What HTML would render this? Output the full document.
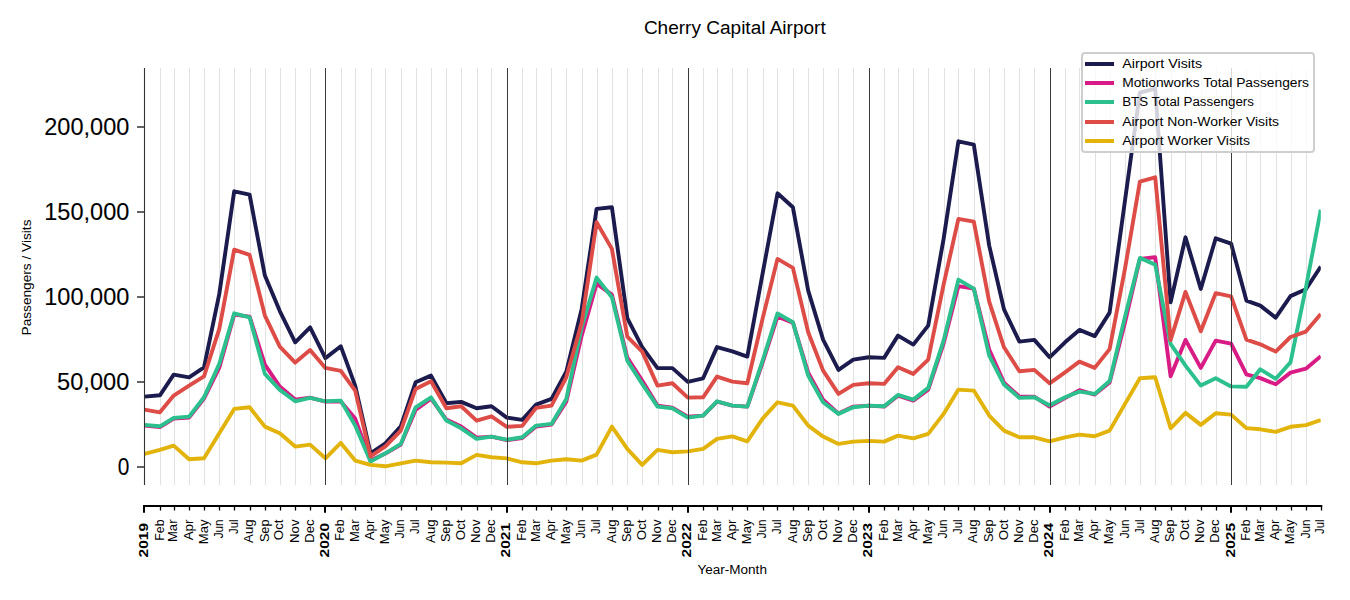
<!DOCTYPE html><html><head><meta charset="utf-8"><style>html,body{margin:0;padding:0;background:#fff;width:1350px;height:600px;overflow:hidden}svg{display:block}</style></head><body>
<svg width="1350" height="600" viewBox="0 0 1350 600" style='font-family:"Liberation Sans",sans-serif'>
<style>.yt{stroke:#000;stroke-width:0.1px}</style>
<rect width="1350" height="600" fill="#fff"/>
<path d="M137 467.0H144.5" stroke="#222" stroke-width="1.4"/>
<text class="yt" x="129.3" y="475.3" font-size="23.00" text-anchor="end" textLength="11.6" lengthAdjust="spacingAndGlyphs" fill="#000">0</text>
<path d="M137 382.0H144.5" stroke="#222" stroke-width="1.4"/>
<text class="yt" x="129.3" y="390.3" font-size="23.00" text-anchor="end" textLength="72.2" lengthAdjust="spacingAndGlyphs" fill="#000">50,000</text>
<path d="M137 297.0H144.5" stroke="#222" stroke-width="1.4"/>
<text class="yt" x="129.3" y="305.3" font-size="23.00" text-anchor="end" textLength="85.0" lengthAdjust="spacingAndGlyphs" fill="#000">100,000</text>
<path d="M137 212.0H144.5" stroke="#222" stroke-width="1.4"/>
<text class="yt" x="129.3" y="220.3" font-size="23.00" text-anchor="end" textLength="85.0" lengthAdjust="spacingAndGlyphs" fill="#000">150,000</text>
<path d="M137 127.0H144.5" stroke="#222" stroke-width="1.4"/>
<text class="yt" x="129.3" y="135.3" font-size="23.00" text-anchor="end" textLength="85.0" lengthAdjust="spacingAndGlyphs" fill="#000">200,000</text>
<path d="M160.5 68V485M174.5 68V485M189.5 68V485M204.5 68V485M219.5 68V485M234.5 68V485M250.5 68V485M265.5 68V485M280.5 68V485M295.5 68V485M310.5 68V485M341.5 68V485M355.5 68V485M371.5 68V485M385.5 68V485M401.5 68V485M416.5 68V485M431.5 68V485M446.5 68V485M461.5 68V485M477.5 68V485M491.5 68V485M522.5 68V485M536.5 68V485M551.5 68V485M566.5 68V485M582.5 68V485M597.5 68V485M612.5 68V485M627.5 68V485M642.5 68V485M658.5 68V485M672.5 68V485M703.5 68V485M717.5 68V485M732.5 68V485M747.5 68V485M763.5 68V485M777.5 68V485M793.5 68V485M808.5 68V485M823.5 68V485M838.5 68V485M853.5 68V485M884.5 68V485M898.5 68V485M913.5 68V485M928.5 68V485M944.5 68V485M958.5 68V485M974.5 68V485M989.5 68V485M1004.5 68V485M1019.5 68V485M1034.5 68V485M1065.5 68V485M1079.5 68V485M1095.5 68V485M1110.5 68V485M1125.5 68V485M1140.5 68V485M1155.5 68V485M1171.5 68V485M1185.5 68V485M1201.5 68V485M1216.5 68V485M1246.5 68V485M1260.5 68V485M1276.5 68V485M1291.5 68V485M1306.5 68V485" stroke="#e2e2e2" stroke-width="1" fill="none"/>
<defs><clipPath id="pc"><rect x="144.49" y="60" width="1176.29" height="440"/></clipPath></defs><g clip-path="url(#pc)">
<polyline points="144.5,396.6 159.9,395.3 173.7,374.6 189.1,377.3 204.0,367.3 219.3,293.9 234.2,191.3 249.6,194.6 264.9,275.6 279.8,311.1 295.2,342.3 310.1,327.3 325.4,358.1 340.8,346.3 355.2,385.6 370.5,453.3 385.4,443.3 400.8,426.3 415.6,382.3 431.0,375.6 446.4,403.3 461.2,401.9 476.6,408.3 491.5,406.3 506.8,417.6 522.2,419.9 536.1,404.6 551.5,398.9 566.3,371.6 581.7,308.9 596.6,208.9 611.9,207.3 627.3,318.1 642.2,347.1 657.5,368.1 672.4,368.1 687.8,381.9 703.1,378.3 717.0,347.1 732.4,351.3 747.3,356.6 762.6,273.6 777.5,193.3 792.9,207.3 808.2,290.6 823.1,339.6 838.5,369.9 853.3,359.6 868.7,357.3 884.1,357.9 898.0,335.6 913.3,344.6 928.2,325.6 943.6,238.9 958.4,141.3 973.8,144.6 989.2,245.6 1004.0,309.4 1019.4,341.6 1034.3,339.9 1049.6,357.3 1065.0,342.3 1079.4,329.9 1094.7,336.1 1109.6,312.6 1125.0,200.6 1139.9,92.6 1155.2,88.6 1170.6,302.3 1185.5,237.3 1200.8,288.9 1215.7,238.3 1231.1,243.6 1246.4,300.6 1260.3,305.6 1275.7,317.6 1290.5,296.1 1305.9,289.2 1320.8,266.6" fill="none" stroke="#1c1b4e" stroke-width="3.9" stroke-linejoin="round" stroke-linecap="butt"/>
<polyline points="144.5,425.6 159.9,427.1 173.7,418.6 189.1,417.6 204.0,398.6 219.3,367.6 234.2,314.6 249.6,316.6 264.9,364.6 279.8,386.6 295.2,399.6 310.1,397.6 325.4,401.6 340.8,401.6 355.2,418.6 370.5,460.6 385.4,453.6 400.8,444.6 415.6,409.9 431.0,398.6 446.4,419.6 461.2,426.6 476.6,437.6 491.5,436.6 506.8,440.1 522.2,438.1 536.1,426.6 551.5,424.6 566.3,401.6 581.7,335.6 596.6,283.6 611.9,294.6 627.3,357.6 642.2,380.6 657.5,405.6 672.4,407.6 687.8,416.6 703.1,415.6 717.0,401.6 732.4,405.6 747.3,406.6 762.6,362.6 777.5,316.6 792.9,322.6 808.2,372.6 823.1,399.6 838.5,413.6 853.3,406.6 868.7,405.6 884.1,406.6 898.0,395.6 913.3,400.6 928.2,389.6 943.6,343.6 958.4,286.1 973.8,288.6 989.2,349.6 1004.0,382.6 1019.4,396.6 1034.3,396.6 1049.6,406.6 1065.0,398.1 1079.4,390.1 1094.7,394.6 1109.6,382.6 1125.0,322.6 1139.9,258.9 1155.2,257.3 1170.6,376.3 1185.5,339.9 1200.8,367.9 1215.7,340.6 1231.1,343.6 1246.4,374.3 1260.3,378.1 1275.7,384.3 1290.5,372.6 1305.9,368.7 1320.8,356.2" fill="none" stroke="#d81b85" stroke-width="3.9" stroke-linejoin="round" stroke-linecap="butt"/>
<polyline points="144.5,424.9 159.9,426.3 173.7,417.9 189.1,416.6 204.0,397.3 219.3,363.9 234.2,313.3 249.6,317.3 264.9,373.9 279.8,389.9 295.2,401.3 310.1,397.9 325.4,401.3 340.8,400.6 355.2,425.6 370.5,461.6 385.4,453.3 400.8,443.9 415.6,407.3 431.0,397.3 446.4,420.6 461.2,428.3 476.6,438.9 491.5,436.6 506.8,439.7 522.2,437.3 536.1,425.6 551.5,423.9 566.3,398.9 581.7,327.3 596.6,277.6 611.9,297.3 627.3,360.6 642.2,383.9 657.5,406.6 672.4,408.3 687.8,417.6 703.1,415.6 717.0,401.3 732.4,405.6 747.3,406.6 762.6,360.6 777.5,313.4 792.9,322.3 808.2,375.6 823.1,402.3 838.5,413.9 853.3,407.3 868.7,405.6 884.1,406.3 898.0,394.9 913.3,399.6 928.2,387.9 943.6,340.6 958.4,279.6 973.8,288.6 989.2,355.6 1004.0,384.6 1019.4,397.9 1034.3,397.3 1049.6,405.3 1065.0,397.3 1079.4,391.6 1094.7,393.9 1109.6,381.1 1125.0,316.6 1139.9,257.9 1155.2,264.6 1170.6,343.9 1185.5,365.6 1200.8,385.6 1215.7,378.3 1231.1,386.4 1246.4,386.8 1260.3,369.3 1275.7,378.8 1290.5,362.4 1305.9,287.6 1320.8,209.6" fill="none" stroke="#2dc08f" stroke-width="3.9" stroke-linejoin="round" stroke-linecap="butt"/>
<polyline points="144.5,409.6 159.9,412.3 173.7,395.6 189.1,385.6 204.0,376.3 219.3,328.9 234.2,249.6 249.6,254.9 264.9,315.6 279.8,346.6 295.2,362.6 310.1,350.1 325.4,367.9 340.8,370.9 355.2,390.6 370.5,456.3 385.4,446.3 400.8,430.6 415.6,388.9 431.0,381.3 446.4,408.3 461.2,406.3 476.6,420.6 491.5,416.3 506.8,426.8 522.2,425.9 536.1,407.9 551.5,405.6 566.3,377.3 581.7,322.6 596.6,222.3 611.9,248.9 627.3,336.6 642.2,351.6 657.5,385.6 672.4,383.3 687.8,397.6 703.1,397.3 717.0,376.6 732.4,381.6 747.3,383.3 762.6,318.6 777.5,258.9 792.9,267.9 808.2,332.3 823.1,370.6 838.5,393.9 853.3,384.9 868.7,383.3 884.1,383.9 898.0,367.3 913.3,373.9 928.2,359.6 943.6,284.6 958.4,218.9 973.8,221.6 989.2,301.6 1004.0,347.3 1019.4,371.3 1034.3,369.9 1049.6,383.3 1065.0,372.3 1079.4,361.6 1094.7,367.9 1109.6,349.1 1125.0,268.6 1139.9,181.6 1155.2,177.3 1170.6,340.1 1185.5,291.9 1200.8,331.3 1215.7,293.1 1231.1,296.3 1246.4,339.6 1260.3,344.3 1275.7,351.6 1290.5,337.0 1305.9,331.6 1320.8,314.1" fill="none" stroke="#dd4c46" stroke-width="3.9" stroke-linejoin="round" stroke-linecap="butt"/>
<polyline points="144.5,453.9 159.9,449.9 173.7,445.6 189.1,459.3 204.0,458.3 219.3,433.3 234.2,408.9 249.6,407.3 264.9,426.6 279.8,433.3 295.2,446.6 310.1,444.6 325.4,458.3 340.8,442.9 355.2,460.6 370.5,464.9 385.4,466.3 400.8,463.3 415.6,460.6 431.0,462.3 446.4,462.6 461.2,463.3 476.6,454.9 491.5,457.3 506.8,458.4 522.2,462.3 536.1,463.3 551.5,460.6 566.3,459.3 581.7,460.6 596.6,454.6 611.9,426.6 627.3,448.9 642.2,464.9 657.5,449.9 672.4,452.3 687.8,451.4 703.1,448.9 717.0,438.9 732.4,436.3 747.3,441.3 762.6,418.6 777.5,402.3 792.9,405.6 808.2,425.6 823.1,436.6 838.5,443.9 853.3,441.6 868.7,440.9 884.1,441.6 898.0,435.6 913.3,438.3 928.2,433.9 943.6,413.9 958.4,389.6 973.8,390.6 989.2,415.6 1004.0,430.6 1019.4,437.3 1034.3,437.3 1049.6,441.3 1065.0,437.3 1079.4,434.6 1094.7,436.3 1109.6,430.6 1125.0,403.9 1139.9,378.3 1155.2,377.3 1170.6,428.3 1185.5,412.9 1200.8,424.9 1215.7,413.3 1231.1,414.6 1246.4,428.1 1260.3,429.3 1275.7,431.8 1290.5,426.8 1305.9,425.1 1320.8,420.1" fill="none" stroke="#e2b30a" stroke-width="3.9" stroke-linejoin="round" stroke-linecap="butt"/>
</g>
<path d="M144.5 68V485" stroke="#333" stroke-width="1.1" fill="none"/>
<path d="M325.5 68V485M507.5 68V485M688.5 68V485M869.5 68V485M1050.5 68V485M1231.5 68V485" stroke="#3a3a3a" stroke-width="1" fill="none"/>
<path d="M143.4 506H1322.2" stroke="#000" stroke-width="2"/>
<path d="M160.5 505V510.6M174.5 505V510.6M189.5 505V510.6M204.5 505V510.6M219.5 505V510.6M234.5 505V510.6M250.5 505V510.6M265.5 505V510.6M280.5 505V510.6M295.5 505V510.6M310.5 505V510.6M341.5 505V510.6M355.5 505V510.6M371.5 505V510.6M385.5 505V510.6M401.5 505V510.6M416.5 505V510.6M431.5 505V510.6M446.5 505V510.6M461.5 505V510.6M477.5 505V510.6M491.5 505V510.6M522.5 505V510.6M536.5 505V510.6M551.5 505V510.6M566.5 505V510.6M582.5 505V510.6M597.5 505V510.6M612.5 505V510.6M627.5 505V510.6M642.5 505V510.6M658.5 505V510.6M672.5 505V510.6M703.5 505V510.6M717.5 505V510.6M732.5 505V510.6M747.5 505V510.6M763.5 505V510.6M777.5 505V510.6M793.5 505V510.6M808.5 505V510.6M823.5 505V510.6M838.5 505V510.6M853.5 505V510.6M884.5 505V510.6M898.5 505V510.6M913.5 505V510.6M928.5 505V510.6M944.5 505V510.6M958.5 505V510.6M974.5 505V510.6M989.5 505V510.6M1004.5 505V510.6M1019.5 505V510.6M1034.5 505V510.6M1065.5 505V510.6M1079.5 505V510.6M1095.5 505V510.6M1110.5 505V510.6M1125.5 505V510.6M1140.5 505V510.6M1155.5 505V510.6M1171.5 505V510.6M1185.5 505V510.6M1201.5 505V510.6M1216.5 505V510.6M1246.5 505V510.6M1260.5 505V510.6M1276.5 505V510.6M1291.5 505V510.6M1306.5 505V510.6M1321.5 505V510.6" stroke="#000" stroke-width="1.3"/>
<path d="M144 505V512.8M325 505V512.8M507 505V512.8M688 505V512.8M869 505V512.8M1050 505V512.8M1231 505V512.8" stroke="#000" stroke-width="2"/>
<text transform="translate(148.1 523.0) rotate(-90)" font-size="12.72" font-weight="bold" text-anchor="end" textLength="34.4" lengthAdjust="spacingAndGlyphs">2019</text>
<text transform="translate(163.5 519.5) rotate(-90)" font-size="12.72" text-anchor="end" textLength="21.2" lengthAdjust="spacingAndGlyphs">Feb</text>
<text transform="translate(177.3 519.5) rotate(-90)" font-size="12.72" text-anchor="end" textLength="22.6" lengthAdjust="spacingAndGlyphs">Mar</text>
<text transform="translate(192.7 519.5) rotate(-90)" font-size="12.72" text-anchor="end" textLength="20.8" lengthAdjust="spacingAndGlyphs">Apr</text>
<text transform="translate(207.6 519.5) rotate(-90)" font-size="12.72" text-anchor="end" textLength="24.8" lengthAdjust="spacingAndGlyphs">May</text>
<text transform="translate(222.9 519.5) rotate(-90)" font-size="12.72" text-anchor="end" textLength="18.8" lengthAdjust="spacingAndGlyphs">Jun</text>
<text transform="translate(237.8 519.5) rotate(-90)" font-size="12.72" text-anchor="end" textLength="14.5" lengthAdjust="spacingAndGlyphs">Jul</text>
<text transform="translate(253.2 519.5) rotate(-90)" font-size="12.72" text-anchor="end" textLength="23.4" lengthAdjust="spacingAndGlyphs">Aug</text>
<text transform="translate(268.5 519.5) rotate(-90)" font-size="12.72" text-anchor="end" textLength="22.6" lengthAdjust="spacingAndGlyphs">Sep</text>
<text transform="translate(283.4 519.5) rotate(-90)" font-size="12.72" text-anchor="end" textLength="20.7" lengthAdjust="spacingAndGlyphs">Oct</text>
<text transform="translate(298.8 519.5) rotate(-90)" font-size="12.72" text-anchor="end" textLength="23.4" lengthAdjust="spacingAndGlyphs">Nov</text>
<text transform="translate(313.7 519.5) rotate(-90)" font-size="12.72" text-anchor="end" textLength="23.2" lengthAdjust="spacingAndGlyphs">Dec</text>
<text transform="translate(329.0 523.0) rotate(-90)" font-size="12.72" font-weight="bold" text-anchor="end" textLength="34.4" lengthAdjust="spacingAndGlyphs">2020</text>
<text transform="translate(344.4 519.5) rotate(-90)" font-size="12.72" text-anchor="end" textLength="21.2" lengthAdjust="spacingAndGlyphs">Feb</text>
<text transform="translate(358.8 519.5) rotate(-90)" font-size="12.72" text-anchor="end" textLength="22.6" lengthAdjust="spacingAndGlyphs">Mar</text>
<text transform="translate(374.1 519.5) rotate(-90)" font-size="12.72" text-anchor="end" textLength="20.8" lengthAdjust="spacingAndGlyphs">Apr</text>
<text transform="translate(389.0 519.5) rotate(-90)" font-size="12.72" text-anchor="end" textLength="24.8" lengthAdjust="spacingAndGlyphs">May</text>
<text transform="translate(404.4 519.5) rotate(-90)" font-size="12.72" text-anchor="end" textLength="18.8" lengthAdjust="spacingAndGlyphs">Jun</text>
<text transform="translate(419.2 519.5) rotate(-90)" font-size="12.72" text-anchor="end" textLength="14.5" lengthAdjust="spacingAndGlyphs">Jul</text>
<text transform="translate(434.6 519.5) rotate(-90)" font-size="12.72" text-anchor="end" textLength="23.4" lengthAdjust="spacingAndGlyphs">Aug</text>
<text transform="translate(450.0 519.5) rotate(-90)" font-size="12.72" text-anchor="end" textLength="22.6" lengthAdjust="spacingAndGlyphs">Sep</text>
<text transform="translate(464.8 519.5) rotate(-90)" font-size="12.72" text-anchor="end" textLength="20.7" lengthAdjust="spacingAndGlyphs">Oct</text>
<text transform="translate(480.2 519.5) rotate(-90)" font-size="12.72" text-anchor="end" textLength="23.4" lengthAdjust="spacingAndGlyphs">Nov</text>
<text transform="translate(495.1 519.5) rotate(-90)" font-size="12.72" text-anchor="end" textLength="23.2" lengthAdjust="spacingAndGlyphs">Dec</text>
<text transform="translate(510.4 523.0) rotate(-90)" font-size="12.72" font-weight="bold" text-anchor="end" textLength="34.4" lengthAdjust="spacingAndGlyphs">2021</text>
<text transform="translate(525.8 519.5) rotate(-90)" font-size="12.72" text-anchor="end" textLength="21.2" lengthAdjust="spacingAndGlyphs">Feb</text>
<text transform="translate(539.7 519.5) rotate(-90)" font-size="12.72" text-anchor="end" textLength="22.6" lengthAdjust="spacingAndGlyphs">Mar</text>
<text transform="translate(555.1 519.5) rotate(-90)" font-size="12.72" text-anchor="end" textLength="20.8" lengthAdjust="spacingAndGlyphs">Apr</text>
<text transform="translate(569.9 519.5) rotate(-90)" font-size="12.72" text-anchor="end" textLength="24.8" lengthAdjust="spacingAndGlyphs">May</text>
<text transform="translate(585.3 519.5) rotate(-90)" font-size="12.72" text-anchor="end" textLength="18.8" lengthAdjust="spacingAndGlyphs">Jun</text>
<text transform="translate(600.2 519.5) rotate(-90)" font-size="12.72" text-anchor="end" textLength="14.5" lengthAdjust="spacingAndGlyphs">Jul</text>
<text transform="translate(615.5 519.5) rotate(-90)" font-size="12.72" text-anchor="end" textLength="23.4" lengthAdjust="spacingAndGlyphs">Aug</text>
<text transform="translate(630.9 519.5) rotate(-90)" font-size="12.72" text-anchor="end" textLength="22.6" lengthAdjust="spacingAndGlyphs">Sep</text>
<text transform="translate(645.8 519.5) rotate(-90)" font-size="12.72" text-anchor="end" textLength="20.7" lengthAdjust="spacingAndGlyphs">Oct</text>
<text transform="translate(661.1 519.5) rotate(-90)" font-size="12.72" text-anchor="end" textLength="23.4" lengthAdjust="spacingAndGlyphs">Nov</text>
<text transform="translate(676.0 519.5) rotate(-90)" font-size="12.72" text-anchor="end" textLength="23.2" lengthAdjust="spacingAndGlyphs">Dec</text>
<text transform="translate(691.4 523.0) rotate(-90)" font-size="12.72" font-weight="bold" text-anchor="end" textLength="34.4" lengthAdjust="spacingAndGlyphs">2022</text>
<text transform="translate(706.7 519.5) rotate(-90)" font-size="12.72" text-anchor="end" textLength="21.2" lengthAdjust="spacingAndGlyphs">Feb</text>
<text transform="translate(720.6 519.5) rotate(-90)" font-size="12.72" text-anchor="end" textLength="22.6" lengthAdjust="spacingAndGlyphs">Mar</text>
<text transform="translate(736.0 519.5) rotate(-90)" font-size="12.72" text-anchor="end" textLength="20.8" lengthAdjust="spacingAndGlyphs">Apr</text>
<text transform="translate(750.9 519.5) rotate(-90)" font-size="12.72" text-anchor="end" textLength="24.8" lengthAdjust="spacingAndGlyphs">May</text>
<text transform="translate(766.2 519.5) rotate(-90)" font-size="12.72" text-anchor="end" textLength="18.8" lengthAdjust="spacingAndGlyphs">Jun</text>
<text transform="translate(781.1 519.5) rotate(-90)" font-size="12.72" text-anchor="end" textLength="14.5" lengthAdjust="spacingAndGlyphs">Jul</text>
<text transform="translate(796.5 519.5) rotate(-90)" font-size="12.72" text-anchor="end" textLength="23.4" lengthAdjust="spacingAndGlyphs">Aug</text>
<text transform="translate(811.8 519.5) rotate(-90)" font-size="12.72" text-anchor="end" textLength="22.6" lengthAdjust="spacingAndGlyphs">Sep</text>
<text transform="translate(826.7 519.5) rotate(-90)" font-size="12.72" text-anchor="end" textLength="20.7" lengthAdjust="spacingAndGlyphs">Oct</text>
<text transform="translate(842.1 519.5) rotate(-90)" font-size="12.72" text-anchor="end" textLength="23.4" lengthAdjust="spacingAndGlyphs">Nov</text>
<text transform="translate(856.9 519.5) rotate(-90)" font-size="12.72" text-anchor="end" textLength="23.2" lengthAdjust="spacingAndGlyphs">Dec</text>
<text transform="translate(872.3 523.0) rotate(-90)" font-size="12.72" font-weight="bold" text-anchor="end" textLength="34.4" lengthAdjust="spacingAndGlyphs">2023</text>
<text transform="translate(887.7 519.5) rotate(-90)" font-size="12.72" text-anchor="end" textLength="21.2" lengthAdjust="spacingAndGlyphs">Feb</text>
<text transform="translate(901.6 519.5) rotate(-90)" font-size="12.72" text-anchor="end" textLength="22.6" lengthAdjust="spacingAndGlyphs">Mar</text>
<text transform="translate(916.9 519.5) rotate(-90)" font-size="12.72" text-anchor="end" textLength="20.8" lengthAdjust="spacingAndGlyphs">Apr</text>
<text transform="translate(931.8 519.5) rotate(-90)" font-size="12.72" text-anchor="end" textLength="24.8" lengthAdjust="spacingAndGlyphs">May</text>
<text transform="translate(947.2 519.5) rotate(-90)" font-size="12.72" text-anchor="end" textLength="18.8" lengthAdjust="spacingAndGlyphs">Jun</text>
<text transform="translate(962.0 519.5) rotate(-90)" font-size="12.72" text-anchor="end" textLength="14.5" lengthAdjust="spacingAndGlyphs">Jul</text>
<text transform="translate(977.4 519.5) rotate(-90)" font-size="12.72" text-anchor="end" textLength="23.4" lengthAdjust="spacingAndGlyphs">Aug</text>
<text transform="translate(992.8 519.5) rotate(-90)" font-size="12.72" text-anchor="end" textLength="22.6" lengthAdjust="spacingAndGlyphs">Sep</text>
<text transform="translate(1007.6 519.5) rotate(-90)" font-size="12.72" text-anchor="end" textLength="20.7" lengthAdjust="spacingAndGlyphs">Oct</text>
<text transform="translate(1023.0 519.5) rotate(-90)" font-size="12.72" text-anchor="end" textLength="23.4" lengthAdjust="spacingAndGlyphs">Nov</text>
<text transform="translate(1037.9 519.5) rotate(-90)" font-size="12.72" text-anchor="end" textLength="23.2" lengthAdjust="spacingAndGlyphs">Dec</text>
<text transform="translate(1053.2 523.0) rotate(-90)" font-size="12.72" font-weight="bold" text-anchor="end" textLength="34.4" lengthAdjust="spacingAndGlyphs">2024</text>
<text transform="translate(1068.6 519.5) rotate(-90)" font-size="12.72" text-anchor="end" textLength="21.2" lengthAdjust="spacingAndGlyphs">Feb</text>
<text transform="translate(1083.0 519.5) rotate(-90)" font-size="12.72" text-anchor="end" textLength="22.6" lengthAdjust="spacingAndGlyphs">Mar</text>
<text transform="translate(1098.3 519.5) rotate(-90)" font-size="12.72" text-anchor="end" textLength="20.8" lengthAdjust="spacingAndGlyphs">Apr</text>
<text transform="translate(1113.2 519.5) rotate(-90)" font-size="12.72" text-anchor="end" textLength="24.8" lengthAdjust="spacingAndGlyphs">May</text>
<text transform="translate(1128.6 519.5) rotate(-90)" font-size="12.72" text-anchor="end" textLength="18.8" lengthAdjust="spacingAndGlyphs">Jun</text>
<text transform="translate(1143.5 519.5) rotate(-90)" font-size="12.72" text-anchor="end" textLength="14.5" lengthAdjust="spacingAndGlyphs">Jul</text>
<text transform="translate(1158.8 519.5) rotate(-90)" font-size="12.72" text-anchor="end" textLength="23.4" lengthAdjust="spacingAndGlyphs">Aug</text>
<text transform="translate(1174.2 519.5) rotate(-90)" font-size="12.72" text-anchor="end" textLength="22.6" lengthAdjust="spacingAndGlyphs">Sep</text>
<text transform="translate(1189.1 519.5) rotate(-90)" font-size="12.72" text-anchor="end" textLength="20.7" lengthAdjust="spacingAndGlyphs">Oct</text>
<text transform="translate(1204.4 519.5) rotate(-90)" font-size="12.72" text-anchor="end" textLength="23.4" lengthAdjust="spacingAndGlyphs">Nov</text>
<text transform="translate(1219.3 519.5) rotate(-90)" font-size="12.72" text-anchor="end" textLength="23.2" lengthAdjust="spacingAndGlyphs">Dec</text>
<text transform="translate(1234.7 523.0) rotate(-90)" font-size="12.72" font-weight="bold" text-anchor="end" textLength="34.4" lengthAdjust="spacingAndGlyphs">2025</text>
<text transform="translate(1250.0 519.5) rotate(-90)" font-size="12.72" text-anchor="end" textLength="21.2" lengthAdjust="spacingAndGlyphs">Feb</text>
<text transform="translate(1263.9 519.5) rotate(-90)" font-size="12.72" text-anchor="end" textLength="22.6" lengthAdjust="spacingAndGlyphs">Mar</text>
<text transform="translate(1279.3 519.5) rotate(-90)" font-size="12.72" text-anchor="end" textLength="20.8" lengthAdjust="spacingAndGlyphs">Apr</text>
<text transform="translate(1294.1 519.5) rotate(-90)" font-size="12.72" text-anchor="end" textLength="24.8" lengthAdjust="spacingAndGlyphs">May</text>
<text transform="translate(1309.5 519.5) rotate(-90)" font-size="12.72" text-anchor="end" textLength="18.8" lengthAdjust="spacingAndGlyphs">Jun</text>
<text transform="translate(1324.4 519.5) rotate(-90)" font-size="12.72" text-anchor="end" textLength="14.5" lengthAdjust="spacingAndGlyphs">Jul</text>
<text x="732.2" y="573.9" font-size="13.25" text-anchor="middle" textLength="69.4" lengthAdjust="spacingAndGlyphs">Year-Month</text>
<text transform="translate(30.8 277.5) rotate(-90)" font-size="13.25" text-anchor="middle" textLength="115.9" lengthAdjust="spacingAndGlyphs">Passengers / Visits</text>
<text class="tt" x="734.8" y="34.1" font-size="17.67" text-anchor="middle" textLength="181.8" lengthAdjust="spacingAndGlyphs">Cherry Capital Airport</text>
<rect x="1082" y="53" width="232" height="99" rx="3" fill="#fff" fill-opacity="0.8" stroke="#cecece" stroke-width="2"/>
<path d="M1085 64.0H1114" stroke="#1c1b4e" stroke-width="4"/>
<text x="1122.2" y="67.7" font-size="13.25" textLength="79.9" lengthAdjust="spacingAndGlyphs">Airport Visits</text>
<path d="M1085 83.0H1114" stroke="#d81b85" stroke-width="4"/>
<text x="1122.2" y="86.7" font-size="13.25" textLength="186.8" lengthAdjust="spacingAndGlyphs">Motionworks Total Passengers</text>
<path d="M1085 102.0H1114" stroke="#2dc08f" stroke-width="4"/>
<text x="1122.2" y="105.7" font-size="13.25" textLength="131.8" lengthAdjust="spacingAndGlyphs">BTS Total Passengers</text>
<path d="M1085 122.0H1114" stroke="#dd4c46" stroke-width="4"/>
<text x="1122.2" y="125.7" font-size="13.25" textLength="156.8" lengthAdjust="spacingAndGlyphs">Airport Non-Worker Visits</text>
<path d="M1085 141.0H1114" stroke="#e2b30a" stroke-width="4"/>
<text x="1122.2" y="144.7" font-size="13.25" textLength="127.9" lengthAdjust="spacingAndGlyphs">Airport Worker Visits</text>
</svg></body></html>
